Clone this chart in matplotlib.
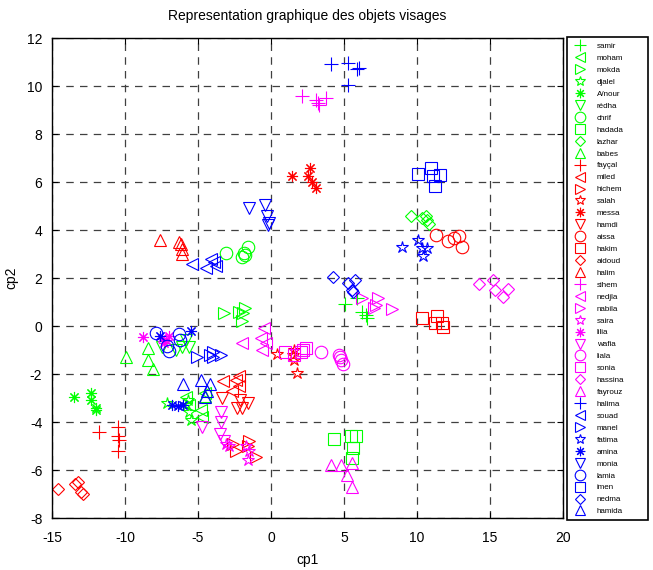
import matplotlib
matplotlib.use("Agg")
import matplotlib.pyplot as plt
from matplotlib.patches import Rectangle

plt.rcParams['font.family'] = ['Liberation Sans', 'DejaVu Sans']
plt.rcParams['axes.unicode_minus'] = False

names = ["samir", "moham", "mokda", "djalel", "A/nour", "rédha", "chrif", "hadada", "lazhar", "babes",
         "fayçal", "miled", "hichem", "salah", "messa", "hamdi", "aissa", "hakim", "aidoud", "halim",
         "sihem", "nedjla", "nabila", "saira", "lilia", "wafia", "liala", "sonia", "hassina", "fayrouz",
         "halima", "souad", "manel", "fatima", "amina", "monia", "lamia", "imen", "nedma", "hamida"]

# (cp1 values, cp2 values) per person
samir_x = [5.1, 5.9, 6.2, 6.5, 6.6];        samir_y = [0.92, 1.17, 0.58, 0.46, 0.33]
moham_x = [-5.8, -5.6, -4.8, -4.7, -4.5];   moham_y = [-2.96, -3.3, -3.5, -3.8, -2.8]
mokda_x = [-3.2, -2.2, -1.9, -2.0, -1.8];   mokda_y = [0.55, 0.6, 0.55, 0.2, 0.75]
djalel_x = [-7.1, -5.8, -5.6, -5.5, -5.7];  djalel_y = [-3.2, -3.3, -3.6, -3.9, -3.1]
anour_x = [-13.5, -12.3, -12.3, -12.0, -12.0]; anour_y = [-2.96, -2.8, -3.1, -3.4, -3.5]
redha_x = [-7.5, -6.5, -6.1, -5.6, -5.8];   redha_y = [-0.87, -1.0, -0.87, -0.87, -0.6]
chrif_x = [-3.1, -2.0, -1.8, -1.6, -1.85];  chrif_y = [3.04, 2.88, 2.96, 3.3, 3.04]
hadada_x = [4.3, 5.5, 5.8, 5.6, 5.55];      hadada_y = [-4.7, -4.6, -4.6, -5.1, -5.5]
lazhar_x = [9.6, 10.35, 10.6, 10.7, 10.8];  lazhar_y = [4.6, 4.5, 4.6, 4.4, 4.25]
babes_x = [-9.9, -8.4, -8.4, -8.1, -4.5];   babes_y = [-1.3, -0.9, -1.4, -1.8, -2.9]

faycal_x = [-11.8, -10.5, -10.5, -10.4, -10.5]; faycal_y = [-4.4, -4.2, -4.6, -4.75, -5.2]
miled_x = [-3.3, -2.4, -2.2, -2.7, -2.2];   miled_y = [-2.3, -2.25, -2.1, -2.7, -2.5]
hichem_x = [-2.4, -1.0, -2.6, -1.6, -1.5];  hichem_y = [-5.2, -5.45, -4.9, -5.0, -4.8]
salah_x = [0.4, 1.6, 1.6, 1.8, 1.5];        salah_y = [-1.17, -1.0, -1.4, -1.95, -1.2]
messa_x = [1.45, 2.5, 2.7, 2.8, 3.1];       messa_y = [6.25, 6.25, 6.6, 6.0, 5.75]
hamdi_x = [-3.35, -2.3, -2.0, -1.6, -2.1];  hamdi_y = [-3.0, -3.4, -3.4, -3.2, -3.1]
aissa_x = [11.3, 12.1, 12.5, 12.9, 13.1];   aissa_y = [3.8, 3.55, 3.65, 3.75, 3.3]
hakim_x = [10.35, 11.4, 11.2, 11.7, 11.8];  hakim_y = [0.33, 0.42, 0.12, 0.12, -0.04]
aidoud_x = [-14.6, -13.4, -13.2, -13.0, -12.9]; aidoud_y = [-6.8, -6.6, -6.5, -6.9, -7.0]
halim_x = [-7.6, -6.3, -6.15, -6.1, -6.1];  halim_y = [3.6, 3.5, 3.4, 3.2, 3.0]

sihem_x = [2.1, 3.1, 3.3, 3.8, 3.2];        sihem_y = [9.6, 9.4, 9.2, 9.5, 9.3]
nedjla_x = [-2.0, -0.5, -0.7, -0.6, -0.35]; nedjla_y = [-0.7, -0.1, -0.5, -1.0, -0.7]
nabila_x = [6.2, 7.3, 7.2, 7.05, 8.3];      nabila_y = [1.17, 1.17, 0.88, 0.75, 0.7]
saira_x = [-3.1, -1.7, -1.6, -1.5, -2.9];   saira_y = [-4.9, -5.0, -5.6, -5.2, -5.0]
lilia_x = [-8.8, -7.5, -7.2, -7.0, -7.3];   lilia_y = [-0.46, -0.5, -0.6, -0.4, -0.7]
wafia_x = [-4.7, -3.4, -3.4, -3.5, -3.2];   wafia_y = [-4.2, -3.6, -4.0, -4.5, -4.8]
liala_x = [3.4, 4.65, 4.8, 4.9, 4.75];      liala_y = [-1.1, -1.2, -1.4, -1.6, -1.3]
sonia_x = [0.96, 2.05, 2.4, 2.2, 1.6];      sonia_y = [-1.1, -1.1, -0.9, -1.0, -1.2]
hassina_x = [14.25, 15.2, 15.35, 15.9, 16.2]; hassina_y = [1.75, 1.9, 1.5, 1.2, 1.54]
fayrouz_x = [4.1, 4.8, 5.2, 5.55, 5.55];    fayrouz_y = [-5.8, -5.8, -6.2, -6.7, -5.7]

halima_x = [4.1, 5.3, 5.9, 6.0, 5.3];       halima_y = [10.9, 10.95, 10.7, 10.75, 10.05]
souad_x = [-5.4, -4.45, -3.9, -3.8, -4.1];  souad_y = [2.6, 2.4, 2.67, 2.5, 2.8]
manel_x = [-5.1, -4.0, -4.0, -3.4, -4.2];   manel_y = [-1.3, -1.1, -1.3, -1.2, -1.2]
fatima_x = [9.0, 10.1, 10.35, 10.7, 10.4];  fatima_y = [3.3, 3.6, 3.25, 3.25, 2.9]
amina_x = [-6.8, -6.4, -6.0, -7.6, -5.5];   amina_y = [-3.3, -3.35, -3.3, -0.4, -0.2]
monia_x = [-1.5, -0.4, -0.27, -0.14, -0.2]; monia_y = [4.9, 5.05, 4.6, 4.3, 4.2]
lamia_x = [-7.9, -7.1, -7.0, -6.3, -6.2];   lamia_y = [-0.3, -0.85, -1.05, -0.35, -0.6]
imen_x = [10.1, 10.95, 11.6, 11.1, 11.2];   imen_y = [6.33, 6.6, 6.3, 6.25, 5.85]
nedma_x = [4.25, 5.3, 5.75, 5.55, 5.6];     nedma_y = [2.04, 1.8, 1.9, 1.5, 1.4]
hamida_x = [-6.0, -4.8, -4.2, -4.5, -4.4];  hamida_y = [-2.4, -2.25, -2.4, -2.96, -2.7]

xs = [samir_x, moham_x, mokda_x, djalel_x, anour_x, redha_x, chrif_x, hadada_x, lazhar_x, babes_x,
      faycal_x, miled_x, hichem_x, salah_x, messa_x, hamdi_x, aissa_x, hakim_x, aidoud_x, halim_x,
      sihem_x, nedjla_x, nabila_x, saira_x, lilia_x, wafia_x, liala_x, sonia_x, hassina_x, fayrouz_x,
      halima_x, souad_x, manel_x, fatima_x, amina_x, monia_x, lamia_x, imen_x, nedma_x, hamida_x]
ys = [samir_y, moham_y, mokda_y, djalel_y, anour_y, redha_y, chrif_y, hadada_y, lazhar_y, babes_y,
      faycal_y, miled_y, hichem_y, salah_y, messa_y, hamdi_y, aissa_y, hakim_y, aidoud_y, halim_y,
      sihem_y, nedjla_y, nabila_y, saira_y, lilia_y, wafia_y, liala_y, sonia_y, hassina_y, fayrouz_y,
      halima_y, souad_y, manel_y, fatima_y, amina_y, monia_y, lamia_y, imen_y, nedma_y, hamida_y]

colors = ['#00ff00', '#ff0000', '#ff00ff', '#0000ff']
markers = ['+', '<', '>', '*', (8, 2, 0), 'v', 'o', 's', 'D', '^']
msizes = [10, 9, 9, 9, 8, 9, 9, 9, 6.5, 9]

fig = plt.figure(figsize=(6.53, 5.70), dpi=100)
ax = fig.add_axes([52/653, 1-518/570, (563-52)/653, (518-38)/570])

handles = []
for i, name in enumerate(names):
    c = colors[i // 10]
    m = markers[i % 10]
    ms = msizes[i % 10]
    h, = ax.plot(xs[i], ys[i], linestyle='none', marker=m, markersize=ms,
                 markerfacecolor='none', markeredgecolor=c, markeredgewidth=0.8,
                 label=name)
    handles.append(h)

ax.set_xlim(-15, 20)
ax.set_ylim(-8, 12)
ax.set_xticks(range(-15, 21, 5))
ax.set_yticks(range(-8, 13, 2))
ax.grid(True, color='0.25', linestyle=(0, (6, 5)), linewidth=0.9)
ax.set_axisbelow(True)
ax.tick_params(direction='in', top=True, right=True, labelsize=10, length=4)
ax.tick_params(axis='x', pad=9)
ax.tick_params(axis='y', pad=7)
for s in ax.spines.values():
    s.set_linewidth(1.0)
ax.set_xlabel('cp1', fontsize=10, labelpad=6)
ax.set_ylabel('cp2', fontsize=10, labelpad=6)
ax.set_title('Representation graphique des objets visages', fontsize=10, pad=13)

# legend frame drawn manually to match the reference box
fig.patches.append(Rectangle((567/653, 1-520/570), (648-567)/653, (520-37)/570,
                             transform=fig.transFigure, fill=True, facecolor='white',
                             edgecolor='black', linewidth=1.2, zorder=1))
leg = fig.legend(handles=handles, loc='upper left',
                 bbox_to_anchor=(570/653, 1-41/570), fontsize=5.8,
                 frameon=False, markerscale=0.85,
                 labelspacing=0.532, handlelength=2.2, handletextpad=0.9,
                 borderpad=0.2, borderaxespad=0)
leg.set_zorder(2)

fig.savefig('out.png', dpi=100)
